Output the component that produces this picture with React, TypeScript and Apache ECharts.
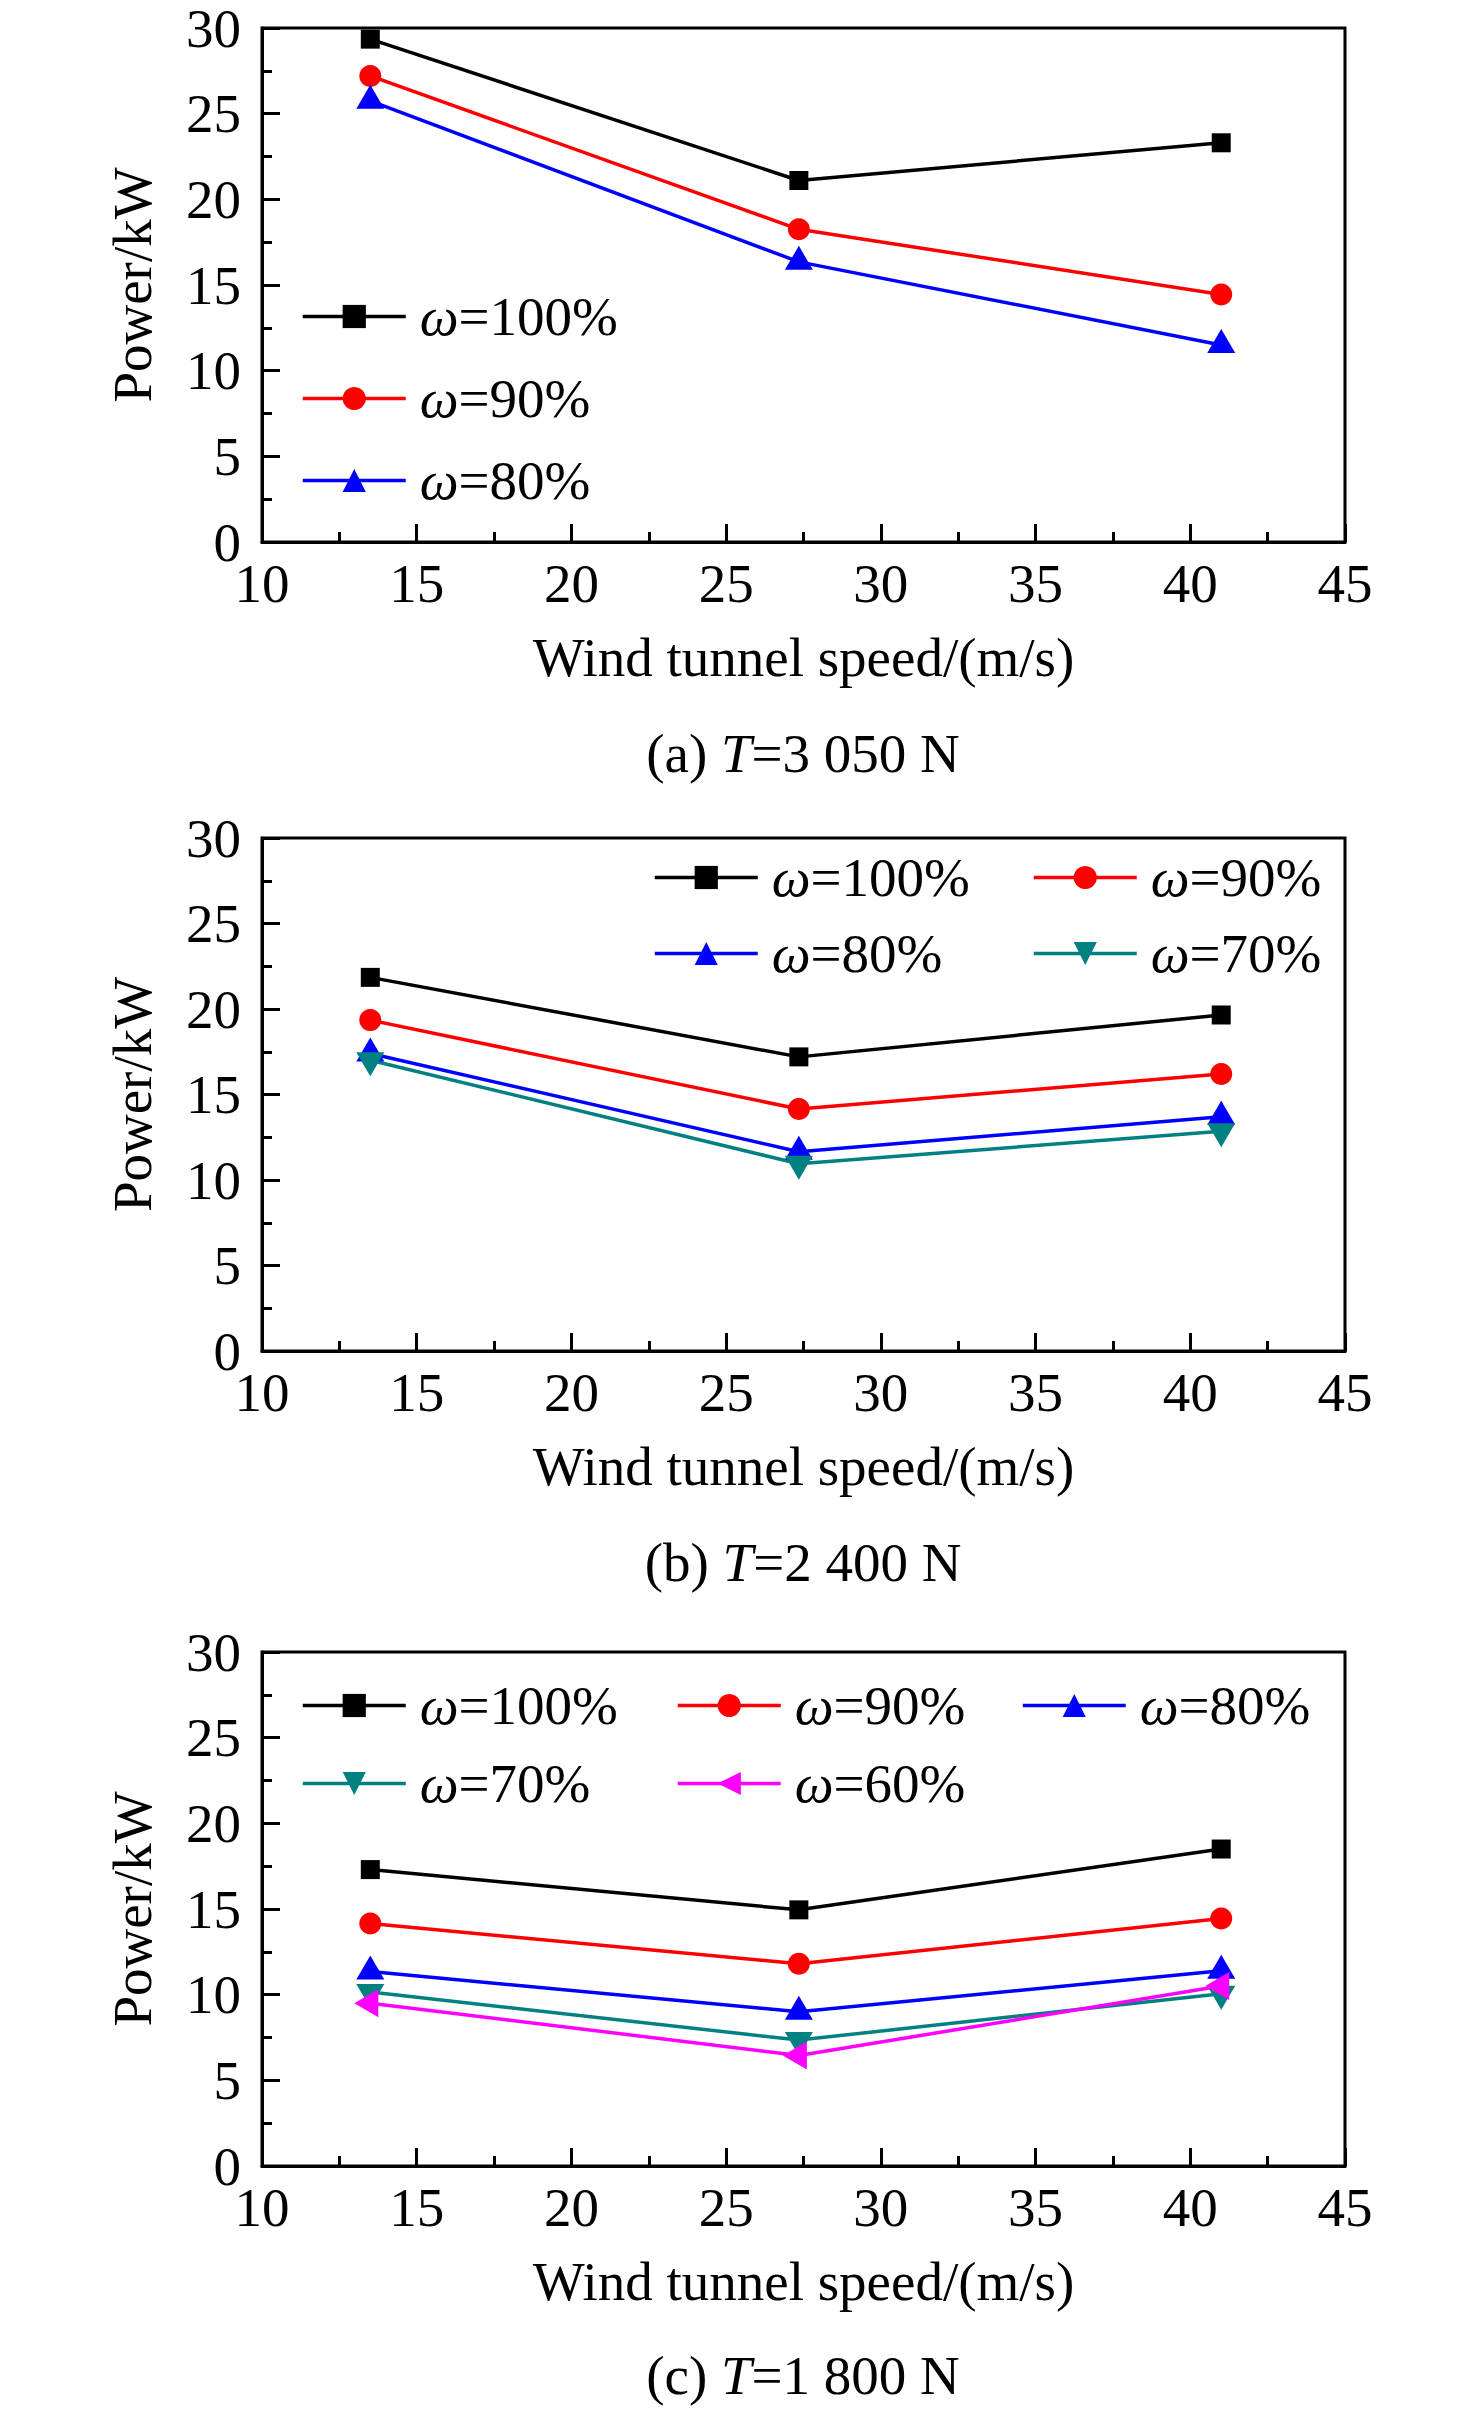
import { useEffect, useRef } from "react";
import * as echarts from "echarts";

const FONT = '"Liberation Serif", "Times New Roman", serif';
const INK = "#000000";

// wind tunnel speed (m/s), same three test points in every panel
const SPEED = [13.5, 27.35, 41];

// (a) T=3 050 N
const A_W100 = [29.35, 21.1, 23.3];
const A_W90 = [27.2, 18.25, 14.45];
const A_W80 = [25.75, 16.35, 11.5];

// (b) T=2 400 N
const B_W100 = [21.85, 17.2, 19.65];
const B_W90 = [19.35, 14.15, 16.2];
const B_W80 = [17.4, 11.65, 13.7];
const B_W70 = [17.0, 10.95, 12.85];

// (c) T=1 800 N
const C_W100 = [17.3, 14.95, 18.5];
const C_W90 = [14.15, 11.8, 14.45];
const C_W80 = [11.35, 9.0, 11.4];
const C_W70 = [10.15, 7.35, 10.05];
const C_W60 = [9.5, 6.45, 10.5];

const PANEL_TITLES = ["(a) {i|T}=3 050 N", "(b) {i|T}=2 400 N", "(c) {i|T}=1 800 N"];
const X_NAME = "Wind tunnel speed/(m/s)";
const Y_NAME = "Power/kW";

const PANELS: { name: string; values: number[] }[][] = [
  [
    { name: "ω=100%", values: A_W100 },
    { name: "ω=90%", values: A_W90 },
    { name: "ω=80%", values: A_W80 },
  ],
  [
    { name: "ω=100%", values: B_W100 },
    { name: "ω=90%", values: B_W90 },
    { name: "ω=80%", values: B_W80 },
    { name: "ω=70%", values: B_W70 },
  ],
  [
    { name: "ω=100%", values: C_W100 },
    { name: "ω=90%", values: C_W90 },
    { name: "ω=80%", values: C_W80 },
    { name: "ω=70%", values: C_W70 },
    { name: "ω=60%", values: C_W60 },
  ],
];

// marker per ω; triangles nudged so their centroid sits on the point (Origin style)
const MARK: Record<string, { color: string; symbol: string; size: number | number[]; rotate: number; offset: number[] }> = {
  "ω=100%": { color: "#000000", symbol: "rect", size: 19, rotate: 0, offset: [0, 0] },
  "ω=90%": { color: "#FF0000", symbol: "circle", size: 22, rotate: 0, offset: [0, 0] },
  "ω=80%": { color: "#0000FF", symbol: "triangle", size: [28, 24], rotate: 0, offset: [0, -4] },
  "ω=70%": { color: "#008080", symbol: "triangle", size: [28, 24], rotate: 180, offset: [0, 4] },
  "ω=60%": { color: "#FF00FF", symbol: "triangle", size: [28, 24], rotate: 90, offset: [-4, 0] },
};

const GRIDS = [
  { left: 262, top: 28, width: 1083, height: 514 },
  { left: 262, top: 838, width: 1083, height: 513 },
  { left: 262, top: 1652, width: 1083, height: 514 },
];
const TITLE_Y = [753, 1562, 2375];

const LEGENDS = [
  { data: ["ω=100%", "ω=90%", "ω=80%"], left: 301, top: 289, itemGap: 27 },
  { data: ["ω=100%", "ω=80%"], left: 653, top: 850, itemGap: 21 },
  { data: ["ω=90%", "ω=70%"], left: 1032, top: 850, itemGap: 21 },
  { data: ["ω=100%", "ω=70%"], left: 301, top: 1678, itemGap: 23 },
  { data: ["ω=90%", "ω=60%"], left: 676, top: 1678, itemGap: 23 },
  { data: ["ω=80%"], left: 1021, top: 1678, itemGap: 23 },
];

const italic = { fontStyle: "italic" as const, fontFamily: FONT, fontSize: 55, color: INK };

export default function App() {
  const ref = useRef<HTMLDivElement>(null);

  useEffect(() => {
    document.body.style.margin = "0";
    if (!ref.current) return;
    const chart = echarts.init(ref.current, undefined, { renderer: "svg" });

    const tickLine = { color: INK, width: 3 };

    chart.setOption({
      animation: false,
      backgroundColor: "#FFFFFF",
      textStyle: { fontFamily: FONT },
      grid: GRIDS.map((g) => ({ ...g, show: true, borderColor: INK, borderWidth: 3, backgroundColor: "transparent" })),
      xAxis: GRIDS.map((_, i) => ({
        gridIndex: i,
        type: "value",
        min: 10,
        max: 45,
        interval: 5,
        name: X_NAME,
        nameLocation: "middle",
        nameGap: 88,
        nameTextStyle: { fontFamily: FONT, fontSize: 55, color: INK },
        axisLine: { show: true, onZero: false, lineStyle: tickLine },
        axisTick: { show: true, inside: true, length: 18, lineStyle: tickLine },
        minorTick: { show: true, splitNumber: 2, length: 10, lineStyle: tickLine },
        axisLabel: { fontFamily: FONT, fontSize: 55, color: INK, margin: 14 },
        splitLine: { show: false },
      })),
      yAxis: GRIDS.map((_, i) => ({
        gridIndex: i,
        type: "value",
        min: 0,
        max: 30,
        interval: 5,
        name: Y_NAME,
        nameLocation: "middle",
        nameGap: 102,
        nameTextStyle: { fontFamily: FONT, fontSize: 55, color: INK },
        axisLine: { show: true, onZero: false, lineStyle: tickLine },
        axisTick: { show: true, inside: true, length: 18, lineStyle: tickLine },
        minorTick: { show: true, splitNumber: 2, length: 10, lineStyle: tickLine },
        axisLabel: { fontFamily: FONT, fontSize: 55, lineHeight: 46, color: INK, margin: 21 },
        splitLine: { show: false },
      })),
      legend: LEGENDS.map((l) => ({
        ...l,
        orient: "vertical",
        padding: 0,
        itemWidth: 103,
        itemHeight: 29,
        selectedMode: false,
        lineStyle: { width: 3.5 },
        formatter: (n: string) => "{i|ω}" + n.slice(1),
        textStyle: { fontFamily: FONT, fontSize: 55, color: INK, padding: [0, 0, 0, 9], rich: { i: italic } },
      })),
      graphic: PANEL_TITLES.map((t, i) => ({
        type: "text",
        x: 803,
        y: TITLE_Y[i],
        style: {
          text: t,
          fontFamily: FONT,
          fontSize: 55,
          fill: INK,
          align: "center",
          verticalAlign: "middle",
          rich: { i: { fontStyle: "italic", fontFamily: FONT, fontSize: 55, fill: INK } },
        },
      })),
      series: PANELS.flatMap((panel, gi) =>
        panel.map((s) => {
          const m = MARK[s.name];
          return {
            name: s.name,
            type: "line",
            xAxisIndex: gi,
            yAxisIndex: gi,
            data: s.values.map((v, k) => [SPEED[k], v]),
            symbol: m.symbol,
            symbolSize: m.size,
            symbolRotate: m.rotate,
            symbolOffset: m.offset,
            showAllSymbol: true,
            color: m.color,
            itemStyle: { color: m.color },
            lineStyle: { color: m.color, width: 3.5 },
            emphasis: { disabled: true },
          };
        })
      ),
    });

    return () => {
      chart.dispose();
    };
  }, []);

  return <div ref={ref} style={{ width: 1476, height: 2413 }} />;
}
